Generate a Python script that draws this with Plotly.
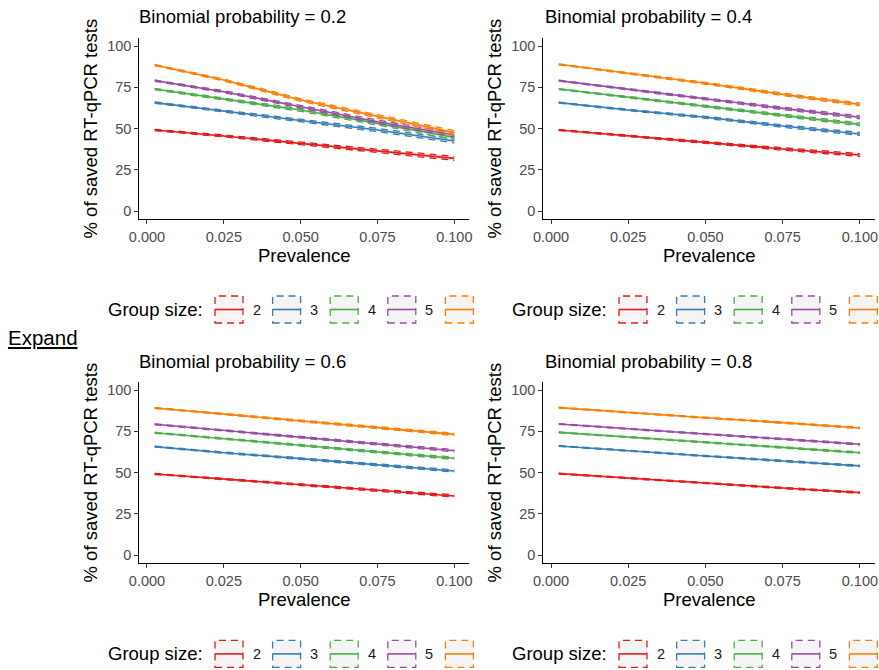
import plotly.graph_objects as go

# ---------------- data ----------------
prevalence = [0.0025, 0.025, 0.05, 0.075, 0.1]
group_sizes = ["2", "3", "4", "5", "10"]
colors = ["#E41A1C", "#377EB8", "#4DAF4A", "#984EA3", "#FF7F00"]
binom_probs = ["0.2", "0.4", "0.6", "0.8"]

saved_p02 = [
    [49.1, 45.5, 41.0, 36.6, 31.9],
    [65.7, 60.6, 55.2, 49.1, 42.4],
    [73.9, 67.9, 61.2, 53.1, 44.6],
    [79.0, 72.3, 63.2, 54.1, 46.1],
    [88.5, 79.4, 67.3, 57.2, 47.5],
]
saved_p04 = [
    [49.1, 45.5, 41.4, 37.6, 33.9],
    [65.7, 61.2, 56.8, 51.5, 46.7],
    [73.9, 68.9, 63.6, 58.2, 52.5],
    [79.0, 73.7, 68.1, 62.2, 56.8],
    [88.9, 83.4, 77.4, 70.7, 64.6],
]
saved_p06 = [
    [49.1, 45.9, 42.4, 39.2, 35.8],
    [65.7, 62.0, 58.4, 54.5, 50.9],
    [74.1, 70.3, 66.5, 62.4, 58.6],
    [79.2, 75.4, 71.3, 67.3, 63.2],
    [89.1, 85.3, 81.2, 77.2, 73.1],
]
saved_p08 = [
    [49.3, 46.5, 43.4, 40.6, 37.8],
    [66.1, 63.0, 60.0, 57.0, 54.0],
    [74.3, 71.3, 68.3, 65.2, 62.0],
    [79.4, 76.4, 73.3, 70.3, 67.1],
    [89.3, 86.3, 83.2, 80.2, 77.0],
]
# half-width of the (dashed) uncertainty band, per prevalence point
band_p02 = [0.4, 0.6, 0.8, 1.0, 1.2]
band_p04 = [0.3, 0.45, 0.6, 0.75, 0.9]
band_p06 = [0.3, 0.4, 0.5, 0.6, 0.7]
band_p08 = [0.25, 0.3, 0.35, 0.4, 0.45]

x_ticks = [0, 0.025, 0.05, 0.075, 0.1]
x_tick_labels = ["0.000", "0.025", "0.050", "0.075", "0.100"]
y_ticks = [0, 25, 50, 75, 100]
y_tick_labels = ["0", "25", "50", "75", "100"]

# ---------------- layout helpers ----------------
W, H = 879, 670
FONT = "Liberation Sans, Arial, Helvetica, sans-serif"


def px_x(p):
    return p / W


def px_y(p):
    return 1 - p / H


col_x = [(139.3, 469.4), (543.3, 875.0)]
row_y = [(37.75, 219.25), (381.75, 563.25)]
row_shift = [0, 344.4]
col_shift = [0, 404.0]

panels = [
    (binom_probs[0], saved_p02, band_p02, 0, 0),
    (binom_probs[1], saved_p04, band_p04, 0, 1),
    (binom_probs[2], saved_p06, band_p06, 1, 0),
    (binom_probs[3], saved_p08, band_p08, 1, 1),
]


def rgba(hexc, a):
    h = hexc.lstrip("#")
    return "rgba(%d,%d,%d,%s)" % (int(h[0:2], 16), int(h[2:4], 16), int(h[4:6], 16), a)


fig = go.Figure()
layout = dict(
    width=W, height=H, autosize=False,
    margin=dict(l=0, r=0, t=0, b=0, autoexpand=False),
    paper_bgcolor="white", plot_bgcolor="white",
    showlegend=False,
    font=dict(family=FONT, color="black"),
)
annotations = []
shapes = []

for k, (prob, series, band, r, c) in enumerate(panels):
    idx = "" if k == 0 else str(k + 1)
    xa, ya = "x" + idx, "y" + idx
    x0, x1 = col_x[c]
    y0, y1 = row_y[r]
    layout["xaxis" + idx] = dict(
        domain=[px_x(x0), px_x(x1)], anchor=ya, range=[-0.0025, 0.1049],
        tickvals=x_ticks, ticktext=x_tick_labels,
        showline=True, linecolor="black", linewidth=1.1,
        ticks="outside", ticklen=4, tickwidth=1.1, tickcolor="#333333",
        tickfont=dict(size=14.5, color="#4D4D4D", family=FONT),
        ticklabeloverflow="allow",
        showgrid=False, zeroline=False,
    )
    layout["yaxis" + idx] = dict(
        domain=[px_y(y1), px_y(y0)], anchor=xa, range=[-5, 105],
        tickvals=y_ticks, ticktext=y_tick_labels,
        showline=True, linecolor="black", linewidth=1.1,
        ticks="outside", ticklen=4, tickwidth=1.1, tickcolor="#333333",
        tickfont=dict(size=14.5, color="#4D4D4D", family=FONT),
        ticklabeloverflow="allow",
        showgrid=False, zeroline=False,
    )
    for s, vals in enumerate(series):
        col = colors[s]
        lower = [v - b for v, b in zip(vals, band)]
        upper = [v + b for v, b in zip(vals, band)]
        fig.add_trace(go.Scatter(
            x=prevalence, y=lower, mode="lines", xaxis=xa, yaxis=ya,
            line=dict(color=col, width=1.3, dash="7px,5px"), hoverinfo="skip",
            cliponaxis=False,
        ))
        fig.add_trace(go.Scatter(
            x=prevalence, y=upper, mode="lines", xaxis=xa, yaxis=ya,
            line=dict(color=col, width=1.3, dash="7px,5px"),
            fill="tonexty", fillcolor=rgba("#808080", 0.12), hoverinfo="skip",
            cliponaxis=False,
        ))
        fig.add_trace(go.Scatter(
            x=prevalence, y=vals, mode="lines", xaxis=xa, yaxis=ya,
            line=dict(color=col, width=1.6), name=group_sizes[s],
            cliponaxis=False,
        ))

    # panel title
    annotations.append(dict(
        text="Binomial probability = " + prob, xref="paper", yref="paper",
        x=px_x(x0 - 2 + (2 if c == 1 else 0)), y=px_y(16.8 + row_shift[r]),
        xanchor="left", yanchor="middle", showarrow=False,
        font=dict(size=18.5, color="black", family=FONT),
    ))
    # x axis title
    annotations.append(dict(
        text="Prevalence", xref="paper", yref="paper",
        x=px_x((x0 + x1) / 2), y=px_y(255 + row_shift[r]),
        xanchor="center", yanchor="middle", showarrow=False,
        font=dict(size=18.5, color="black", family=FONT),
    ))
    # y axis title
    annotations.append(dict(
        text="% of saved RT-qPCR tests", xref="paper", yref="paper",
        x=px_x(90 + col_shift[c]), y=px_y((y0 + y1) / 2),
        xanchor="center", yanchor="middle", showarrow=False, textangle=-90,
        font=dict(size=18.5, color="black", family=FONT),
    ))

# legends ("Group size:") below each panel row, one per column
for r in range(2):
    yc = 309.5 + row_shift[r]
    for c in range(2):
        annotations.append(dict(
            text="Group size:", xref="paper", yref="paper",
            x=px_x(106 + col_shift[c]), y=px_y(yc),
            xanchor="left", yanchor="middle", showarrow=False,
            font=dict(size=18.5, color="black", family=FONT),
        ))
        for s in range(5):
            kx0 = 215 + col_shift[c] + s * 57.6
            kx1 = kx0 + 28
            shapes.append(dict(
                type="rect", xref="paper", yref="paper",
                x0=px_x(kx0), x1=px_x(kx1), y0=px_y(yc + 13.5), y1=px_y(yc - 13.5),
                line=dict(color=colors[s], width=1.3, dash="7px,5px"),
                fillcolor="#F4F4F4", layer="above",
            ))
            shapes.append(dict(
                type="line", xref="paper", yref="paper",
                x0=px_x(kx0), x1=px_x(kx1), y0=px_y(yc), y1=px_y(yc),
                line=dict(color=colors[s], width=1.6), layer="above",
            ))
            if s < 4:
                annotations.append(dict(
                    text=group_sizes[s], xref="paper", yref="paper",
                    x=px_x(kx1 + 13.5), y=px_y(yc),
                    xanchor="center", yanchor="middle", showarrow=False,
                    font=dict(size=14.5, color="#1A1A1A", family=FONT),
                ))

# "Expand" link text between the two images
annotations.append(dict(
    text="<u>Expand</u>", xref="paper", yref="paper",
    x=px_x(6), y=px_y(337.5), xanchor="left", yanchor="middle",
    showarrow=False, font=dict(size=20.5, color="black", family=FONT),
))

layout["annotations"] = annotations
layout["shapes"] = shapes
fig.update_layout(**layout)
fig.write_html(
    "out.html",
    config={"displayModeBar": False, "responsive": False},
    post_script="document.body.style.margin='0';document.body.style.overflow='hidden';",
)
